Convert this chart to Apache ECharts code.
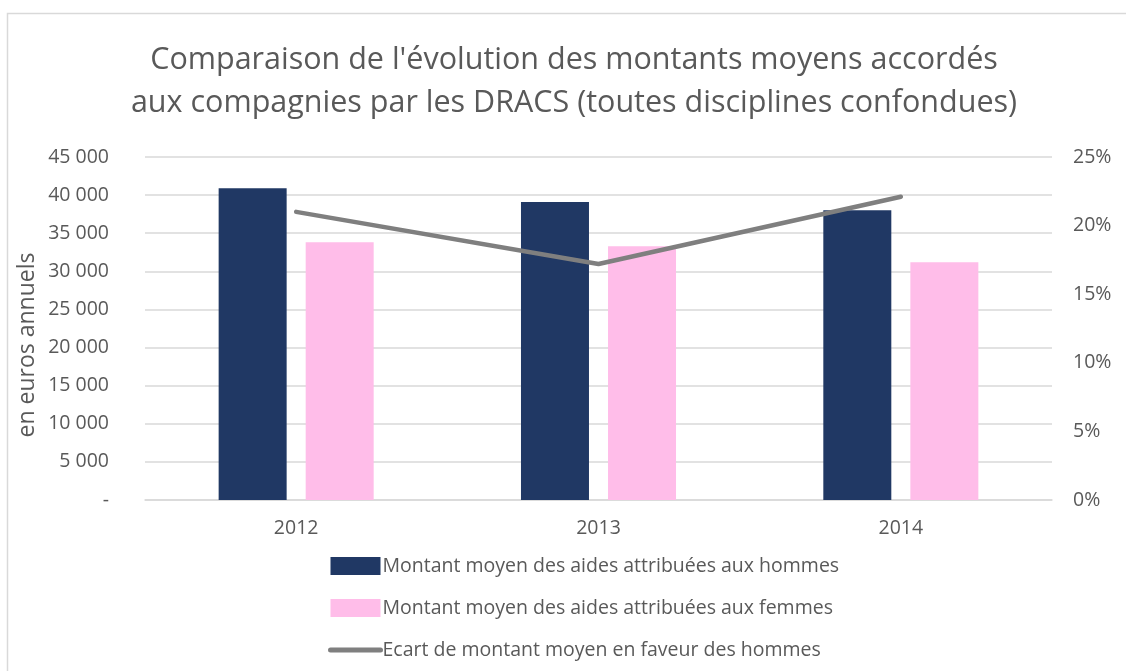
<!DOCTYPE html>
<html>
<head>
<meta charset="utf-8">
<script src="https://cdn.jsdelivr.net/npm/echarts@6/dist/echarts.min.js"></script>
<style>
  html, body { margin: 0; padding: 0; background: #fff; }
  #chart { width: 1126px; height: 671px; }
</style>
</head>
<body>
<div id="chart"></div>
<script>
// données
const years = ['2012', '2013', '2014']
const hommes = [40900, 39100, 38000]
const femmes = [33800, 33300, 31200]
const ecart = [0.210, 0.172, 0.221]

const FONT = 'Open Sans'
const GREY = '#595959'

const chart = echarts.init(document.getElementById('chart'))

function fmtEuros(v) {
  if (v === 0) return '-'
  return String(v).replace(/\B(?=(\d{3})+(?!\d))/g, ' ')
}

chart.setOption({
  animation: false,
  textStyle: { fontFamily: FONT },
  title: {
    text: "Comparaison de l'évolution des montants moyens accordés\naux compagnies par les DRACS (toutes disciplines confondues)",
    left: 569,
    top: 34,
    textAlign: 'center',
    textStyle: { fontSize: 30.5, fontWeight: 'normal', color: GREY, lineHeight: 43, fontFamily: FONT }
  },
  graphic: [
    {
      type: 'rect',
      shape: { x: 7.5, y: 13.5, width: 1200, height: 700 },
      style: { fill: 'none', stroke: '#d9d9d9', lineWidth: 1.5 },
      silent: true
    },
    {
      type: 'text',
      x: 27, y: 345,
      rotation: Math.PI / 2,
      style: { text: 'en euros annuels', fill: GREY, font: '23px "Open Sans"', align: 'center', verticalAlign: 'middle' }
    }
  ],
  legend: {
    orient: 'vertical',
    left: 328,
    top: 556,
    height: 200,
    padding: 0,
    itemWidth: 50,
    itemHeight: 18,
    itemGap: 22,
    textStyle: { fontSize: 19.5, lineHeight: 18, color: GREY, fontFamily: FONT, padding: [0, 0, 0, -3] },
    data: [
      { name: 'Montant moyen des aides attribuées aux hommes', icon: 'rect' },
      { name: 'Montant moyen des aides attribuées aux femmes', icon: 'rect' },
      {
        name: 'Ecart de montant moyen en faveur des hommes',
        itemStyle: { opacity: 0 },
        lineStyle: { width: 5, cap: 'round', color: '#7f7f7f' }
      }
    ]
  },
  grid: { left: 145, right: 74, top: 157, bottom: 171 },
  xAxis: {
    type: 'category',
    data: years,
    axisLine: { lineStyle: { color: '#d9d9d9', width: 1.5 } },
    axisTick: { show: false },
    axisLabel: { fontSize: 19.5, color: GREY, margin: 18 }
  },
  yAxis: [
    {
      type: 'value',
      min: 0,
      max: 45000,
      interval: 5000,
      axisLine: { show: false },
      axisTick: { show: false },
      splitLine: { lineStyle: { color: '#d9d9d9', width: 1.5 } },
      axisLabel: { fontSize: 19.5, color: GREY, margin: 36, formatter: fmtEuros }
    },
    {
      type: 'value',
      min: 0,
      max: 0.25,
      interval: 0.05,
      axisLine: { show: false },
      axisTick: { show: false },
      splitLine: { show: false },
      axisLabel: {
        fontSize: 19.5, color: GREY, margin: 21,
        formatter: v => Math.round(v * 100) + '%'
      }
    }
  ],
  series: [
    {
      name: 'Montant moyen des aides attribuées aux hommes',
      type: 'bar',
      data: hommes,
      barWidth: 68,
      barGap: '28%',
      itemStyle: { color: '#203864' }
    },
    {
      name: 'Montant moyen des aides attribuées aux femmes',
      type: 'bar',
      data: femmes,
      barWidth: 68,
      itemStyle: { color: '#ffbde9' }
    },
    {
      name: 'Ecart de montant moyen en faveur des hommes',
      type: 'line',
      yAxisIndex: 1,
      data: ecart,
      symbol: 'none',
      lineStyle: { color: '#7f7f7f', width: 4.5, cap: 'round', join: 'round' },
      itemStyle: { color: '#7f7f7f' },
      z: 5
    }
  ]
})
</script>
</body>
</html>
